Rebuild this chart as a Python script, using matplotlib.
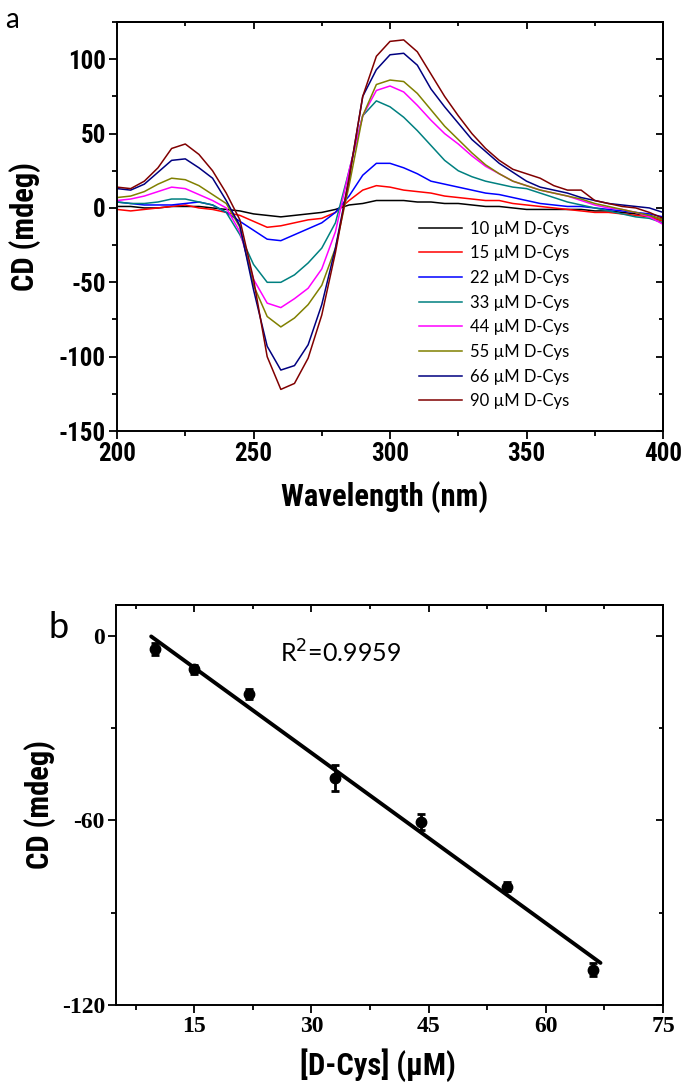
import matplotlib

matplotlib.use("Agg")
import matplotlib.pyplot as plt
import numpy as np
from matplotlib.ticker import MultipleLocator

plt.rcParams["axes.unicode_minus"] = False

# ---- panel a: CD spectra ----
wavelength = [200, 205, 210, 215, 220, 225, 230, 235, 240, 245, 250, 255, 260, 265,
              270, 275, 280, 285, 290, 295, 300, 305, 310, 315, 320, 325, 330, 335,
              340, 345, 350, 355, 360, 365, 370, 375, 380, 385, 390, 395, 400]

cd_10 = [1, 1, 0, 0, 1, 1, 1, 0, -1, -2, -4, -5, -6, -5, -4, -3, -1, 2, 3, 5, 5,
         5, 4, 4, 3, 3, 2, 1, 1, 0, -1, -1, -1, -1, -1, -2, -2, -3, -4, -5, -8]
cd_15 = [-1, -2, -1, 0, 1, 2, 0, -1, -3, -5, -9, -13, -12, -10, -8, -7, -3, 5, 12,
         15, 14, 12, 11, 10, 8, 7, 6, 5, 5, 3, 2, 1, 0, -1, -2, -3, -3, -4, -5, -6, -9]
cd_22 = [4, 3, 2, 2, 2, 3, 4, 2, -3, -9, -15, -21, -22, -18, -14, -10, -3, 8, 22,
         30, 30, 27, 23, 18, 16, 14, 12, 10, 9, 7, 5, 3, 2, 1, 1, 0, -1, -2, -3, -4, -6]
cd_33 = [4, 3, 3, 4, 6, 6, 4, 2, -3, -18, -38, -50, -50, -45, -37, -27, -10, 25,
         62, 72, 68, 61, 52, 42, 32, 25, 21, 18, 16, 14, 13, 10, 7, 4, 2, 0, -2, -4,
         -6, -7, -10]
cd_44 = [5, 6, 8, 11, 14, 13, 9, 5, 0, -16, -48, -64, -67, -61, -54, -41, -16, 25,
         62, 79, 82, 78, 69, 59, 50, 43, 35, 28, 23, 18, 15, 12, 10, 8, 5, 2, 0, -1,
         -3, -6, -11]
cd_55 = [7, 8, 11, 16, 20, 19, 15, 9, 3, -13, -52, -73, -80, -74, -65, -52, -27, 15,
         62, 83, 86, 85, 77, 66, 55, 46, 37, 29, 23, 18, 15, 12, 10, 8, 6, 3, 1, -1,
         -3, -5, -8]
cd_66 = [13, 12, 16, 24, 32, 33, 27, 20, 5, -12, -55, -93, -109, -106, -92, -65, -27,
         20, 75, 93, 103, 104, 96, 80, 68, 57, 46, 38, 30, 24, 18, 14, 12, 10, 7, 5, 3,
         2, 1, 0, -3]
cd_90 = [14, 13, 18, 27, 40, 43, 36, 25, 10, -8, -48, -100, -122, -118, -101, -72,
         -30, 20, 75, 102, 112, 113, 105, 90, 75, 62, 50, 40, 32, 26, 23, 20, 15, 12,
         12, 5, 3, 1, 0, -3, -7]

spectra = [cd_10, cd_15, cd_22, cd_33, cd_44, cd_55, cd_66, cd_90]
spec_labels = ["10 µM D-Cys", "15 µM D-Cys", "22 µM D-Cys", "33 µM D-Cys",
               "44 µM D-Cys", "55 µM D-Cys", "66 µM D-Cys", "90 µM D-Cys"]
spec_colors = ["#000000", "#FF0000", "#0000FF", "#008080",
               "#FF00FF", "#808000", "#000080", "#800000"]

# ---- panel b: calibration ----
conc = [10, 15, 22, 33, 44, 55, 66]
cd_signal = [-4.4, -10.9, -18.9, -46.2, -60.5, -81.5, -108.5]
cd_err = [2.0, 1.5, 1.5, 4.3, 2.7, 1.5, 2.0]
fit_range = [9.5, 67.0]

narrow = ["Roboto Condensed", "Lato", "DejaVu Sans"]
plain = ["Lato", "DejaVu Sans"]
serif = ["Liberation Serif", "DejaVu Serif"]

fig = plt.figure(figsize=(6.86, 10.86), dpi=100)
ax1 = fig.add_axes([0.1706, 0.6031, 0.7959, 0.3766])
ax2 = fig.add_axes([0.1691, 0.0746, 0.7974, 0.3683])

for ys, lab, col in zip(spectra, spec_labels, spec_colors):
    ax1.plot(wavelength, ys, color=col, lw=1.1, label=lab)

ax1.set_xlim(200, 400)
ax1.set_ylim(-150, 125)
ax1.xaxis.set_major_locator(MultipleLocator(50))
ax1.xaxis.set_minor_locator(MultipleLocator(25))
ax1.yaxis.set_major_locator(MultipleLocator(50))
ax1.yaxis.set_minor_locator(MultipleLocator(25))

leg = ax1.legend(loc="upper left", bbox_to_anchor=(0.538, 0.535), frameon=False,
                 prop={"family": plain, "size": 12}, handlelength=2.6,
                 handletextpad=0.45, labelspacing=0.52, borderpad=0)

ax1.set_xlabel("Wavelength (nm)", family=narrow, fontweight="bold", fontsize=22)
ax1.set_ylabel("CD (mdeg)", family=narrow, fontweight="bold", fontsize=22)
ax1.xaxis.label.set_va("center")
ax1.yaxis.label.set_va("center")
ax1.xaxis.set_label_coords(0.49, -0.162)
ax1.yaxis.set_label_coords(-0.168, 0.5)
for t in ax1.get_xticklabels() + ax1.get_yticklabels():
    t.set_family(narrow)
    t.set_fontweight("bold")
    t.set_fontsize(18)
fig.text(0.018, 0.982, "a", family=plain, fontsize=20, ha="center", va="center")

# calibration plot
slope, intercept = np.polyfit(conc, cd_signal, 1)
fx = np.array(fit_range)
ax2.plot(fx, slope * fx + intercept, color="black", lw=2.8, solid_capstyle="round")
ax2.errorbar(conc, cd_signal, yerr=cd_err, fmt="o", color="black", ms=7.5,
             elinewidth=2, capsize=3, capthick=2)
ax2.text(26, -5.7, "R$^2$=0.9959", family=plain, fontsize=18, ha="left", va="center")

ax2.set_xlim(5, 75)
ax2.set_ylim(-120, 10)
ax2.xaxis.set_major_locator(MultipleLocator(15))
ax2.xaxis.set_minor_locator(MultipleLocator(7.5))
ax2.yaxis.set_major_locator(MultipleLocator(60))
ax2.yaxis.set_minor_locator(MultipleLocator(30))

ax2.set_xlabel("[D-Cys] (µM)", family=narrow, fontweight="bold", fontsize=22)
ax2.set_ylabel("CD (mdeg)", family=narrow, fontweight="bold", fontsize=22)
ax2.xaxis.label.set_va("center")
ax2.yaxis.label.set_va("center")
ax2.xaxis.set_label_coords(0.479, -0.15)
ax2.yaxis.set_label_coords(-0.139, 0.5)
for t in ax2.get_xticklabels() + ax2.get_yticklabels():
    t.set_family(serif)
    t.set_fontweight("bold")
    t.set_fontsize(17)
fig.text(0.085, 0.422, "b", family=plain, fontsize=26, ha="center", va="center")

for ax in (ax1, ax2):
    for spine in ax.spines.values():
        spine.set_linewidth(1.4)
    ax.tick_params(which="both", direction="out", top=False, right=False, width=1.3)
    ax.tick_params(which="major", length=6, pad=2)
    ax.tick_params(which="minor", length=3.5)
    # inward ticks on top and right
    sec_x = ax.secondary_xaxis("top")
    sec_x.set_xticks(ax.get_xticks(), labels=[])
    sec_x.xaxis.set_minor_locator(ax.xaxis.get_minor_locator())
    sec_x.tick_params(which="both", direction="in", width=1.3)
    sec_x.tick_params(which="major", length=5)
    sec_x.tick_params(which="minor", length=3)
    sec_x.spines["top"].set_linewidth(1.4)
    sec_y = ax.secondary_yaxis("right")
    sec_y.set_yticks(ax.get_yticks(), labels=[])
    sec_y.yaxis.set_minor_locator(ax.yaxis.get_minor_locator())
    sec_y.tick_params(which="both", direction="in", width=1.3)
    sec_y.tick_params(which="major", length=5)
    sec_y.tick_params(which="minor", length=3)
    sec_y.spines["right"].set_linewidth(1.4)

fig.savefig("out.png", dpi=100)
